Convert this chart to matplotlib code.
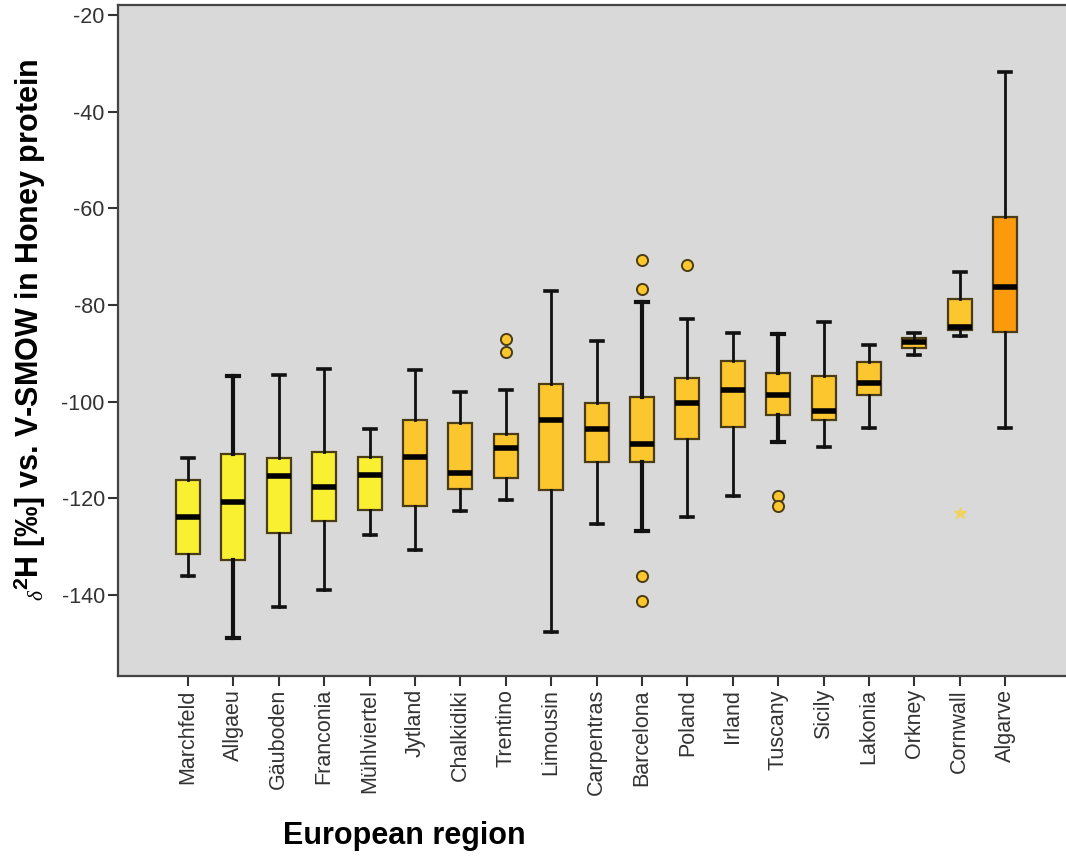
"""Boxplot of delta 2H in honey protein by European region (SPSS style)."""
import matplotlib
matplotlib.use("Agg")
import matplotlib.pyplot as plt

plt.rcParams["font.family"] = ["Liberation Sans", "DejaVu Sans"]
plt.rcParams["mathtext.fontset"] = "custom"
plt.rcParams["mathtext.rm"] = "Liberation Sans:bold"
plt.rcParams["mathtext.bf"] = "Liberation Sans:bold"
plt.rcParams["mathtext.it"] = "Liberation Serif:italic"

regions = ["Marchfeld", "Allgaeu", "Gäuboden", "Franconia", "Mühlviertel",
           "Jytland", "Chalkidiki", "Trentino", "Limousin", "Carpentras",
           "Barcelona", "Poland", "Irland", "Tuscany", "Sicily", "Lakonia",
           "Orkney", "Cornwall", "Algarve"]

whislo = [-136.1, -149.0, -142.5, -139.0, -127.6, -130.8, -122.6, -120.4, -147.7, -125.3,
          -126.7, -123.8, -119.5, -108.4, -109.3, -105.4, -90.4, -86.4, -105.4]
q1 = [-131.5, -132.8, -127.2, -124.8, -122.5, -121.6, -118.0, -115.9, -118.4, -112.5,
      -112.5, -107.7, -105.2, -102.7, -103.8, -98.6, -88.8, -85.2, -85.5]
med = [-123.9, -120.7, -115.4, -117.7, -115.2, -111.4, -114.8, -109.6, -103.8, -105.6,
       -108.8, -100.3, -97.6, -98.6, -101.9, -96.1, -87.7, -84.6, -76.2]
q3 = [-116.3, -110.8, -111.7, -110.5, -111.4, -103.9, -104.5, -106.7, -96.4, -100.2,
      -99.0, -95.1, -91.6, -94.1, -94.7, -91.8, -86.8, -78.8, -61.7]
whishi = [-111.6, -94.6, -94.5, -93.2, -105.7, -93.4, -98.0, -97.7, -77.1, -87.5,
          -79.4, -82.8, -85.9, -86.1, -83.5, -88.3, -85.7, -73.2, -31.7]
outliers = {"Trentino": [-87.1, -89.7],
            "Barcelona": [-70.7, -76.7, -136.1, -141.2],
            "Poland": [-71.7],
            "Tuscany": [-119.5, -121.6]}
extremes = {"Cornwall": [-123.0]}

yellow = "#f9f032"
gold = "#fcc62e"
orange = "#fb9a0a"
box_colors = [yellow] * 5 + [gold] * 13 + [orange]
heavy = {"Allgaeu", "Barcelona", "Tuscany"}

fig = plt.figure(figsize=(10.66, 8.59), dpi=100)
ax = fig.add_axes([118 / 1066, 1 - 676 / 859, 1 - 118 / 1066, 671 / 859])
ax.set_facecolor("#d9d9d9")

positions = list(range(1, len(regions) + 1))
stats = []
for i, name in enumerate(regions):
    stats.append({"label": name, "med": med[i], "q1": q1[i], "q3": q3[i],
                  "whislo": whislo[i], "whishi": whishi[i],
                  "fliers": outliers.get(name, [])})

bp = ax.bxp(stats, positions=positions, widths=0.53, patch_artist=True,
            capwidths=0.26,
            boxprops=dict(edgecolor="#4a3c14", linewidth=1.6),
            medianprops=dict(color="black", linewidth=4, solid_capstyle="butt"),
            whiskerprops=dict(color="#111111", linewidth=2),
            capprops=dict(color="#111111", linewidth=2.6),
            flierprops=dict(marker="o", markersize=8, markerfacecolor=gold,
                            markeredgecolor="#4a3c14", markeredgewidth=1.4))

for i, patch in enumerate(bp["boxes"]):
    patch.set_facecolor(box_colors[i])
for i, name in enumerate(regions):
    if name in heavy:
        for w in bp["whiskers"][2 * i:2 * i + 2]:
            w.set_linewidth(3)
        for c in bp["caps"][2 * i:2 * i + 2]:
            c.set_linewidth(3)

for name, vals in extremes.items():
    x = positions[regions.index(name)]
    ax.plot([x] * len(vals), vals, linestyle="none", marker="*", markersize=9,
            color="#f6d24a", alpha=0.8)

ax.set_xlim(1 - 70 / 45.4, 1 + 878 / 45.4)
ax.set_ylim(-156.8, -17.9)
ax.set_yticks([-20, -40, -60, -80, -100, -120, -140])
ax.set_yticklabels(["-20", "-40", "-60", "-80", "-100", "-120", "-140"])
ax.set_xticks(positions)
ax.set_xticklabels(regions, rotation=90)
ax.tick_params(axis="both", direction="out", length=7.5, width=1.5,
               color="#333333", labelsize=15.5, labelcolor="#333333", pad=2)
ax.spines["right"].set_visible(False)
for side in ("left", "top", "bottom"):
    ax.spines[side].set_linewidth(1.6)
    ax.spines[side].set_color("#444444")

fig.text(404 / 1066, 1 - 836 / 859, "European region", ha="center", va="center",
         fontsize=22, fontweight="bold")
fig.text(30 / 1066, 1 - 330 / 859,
         r"$_{\mathit{\delta}}$$^{\mathbf{2}}$H [‰] vs. V-SMOW in Honey protein",
         rotation=90, ha="center", va="center", fontsize=22, fontweight="bold")

fig.savefig("out.png", dpi=100)
